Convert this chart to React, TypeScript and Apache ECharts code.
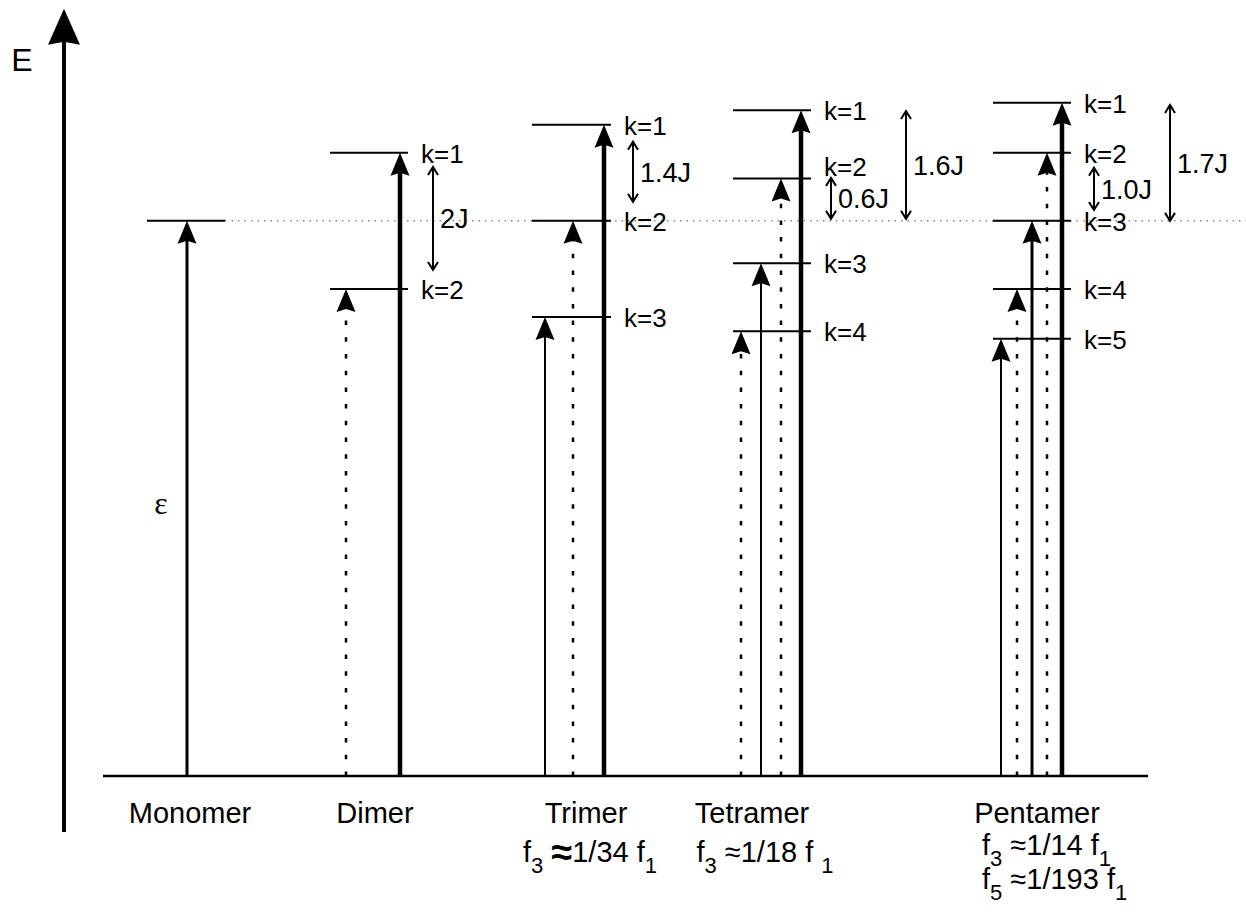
import React, { useEffect, useRef } from "react";
import * as echarts from "echarts";

// ---- canvas / scale ----
const W = 1246;
const H = 920;
const BASE_PX = 776; // pixel row of the ground state line
const PX_PER_J = 68.2; // vertical scale: pixels per unit J

// ---- energies (units of J) ----
const EPSILON = 8.14; // monomer excitation energy
// exciton levels relative to ε, ordered k = 1, 2, ...
const monomerLevels = [0];
const dimerLevels = [1, -1];
const trimerLevels = [1.41, 0, -1.41];
const tetramerLevels = [1.62, 0.62, -0.62, -1.62];
const pentamerLevels = [1.73, 1, 0, -1, -1.73];

const aggregateNames = ["Monomer", "Dimer", "Trimer", "Tetramer", "Pentamer"];
const levelSets = [monomerLevels, dimerLevels, trimerLevels, tetramerLevels, pentamerLevels];
const levelLeft = [147, 330, 532, 733, 993];
const levelRight = [225, 408, 611, 811, 1071];
const nameX = [190, 375, 586, 752, 1037];

// ---- transitions from the ground state ----
const arrowAggregate = [0, 1, 1, 2, 2, 2, 3, 3, 3, 3, 4, 4, 4, 4, 4];
const arrowLevel = [1, 2, 1, 3, 2, 1, 4, 3, 2, 1, 5, 4, 3, 2, 1];
const arrowX = [187, 346, 400, 545, 573, 604, 741, 761, 781, 801, 1001, 1017, 1032, 1047, 1062];
const arrowKind = [
  "medium", "dotted", "thick",
  "thin", "dotted", "thick",
  "dotted", "thin", "dotted", "thick",
  "thin", "dotted", "medium", "dotted", "thick",
];

// ---- splitting markers (relative to ε) ----
const splitX = [433, 633, 906, 831, 1094, 1170];
const splitFrom = [0.79, 1.16, 1.61, 0.63, 0.78, 1.7];
const splitTo = [-0.72, 0.28, 0.03, 0.03, 0.16, 0.0];
const splitLabels = ["2J", "1.4J", "1.6J", "0.6J", "1.0J", "1.7J"];

// ---- energy axis extent ----
const AXIS_X = 64;
const AXIS_BOTTOM = -0.82;
const AXIS_TOP = 11.25;
const BASELINE_LEFT = 103;
const BASELINE_RIGHT = 1148;

const SANS = '"Liberation Sans", Arial, Helvetica, sans-serif';
const SERIF = '"Liberation Serif", "Times New Roman", serif';

const levelRows = levelSets.flatMap((set, a) =>
  set.map((v, k) => ({ a, k: k + 1, e: EPSILON + v }))
);

// k-label lifted clear of the 0.6J marker
function labelNudge(a: number, k: number): number {
  return a === 3 && k === 2 ? -13 : 0;
}

const lineWidthOf: Record<string, number> = { thin: 2, medium: 3, thick: 4.5, dotted: 2.5 };

function head(x: number, y: number): any {
  const w = 19;
  const h = 23;
  return {
    type: "polygon",
    shape: { points: [[x, y], [x + w / 2, y + h], [x, y + h - 3], [x - w / 2, y + h]] },
    style: { fill: "#000" },
  };
}

function openHead(x: number, y: number, dir: number): any {
  return {
    type: "polyline",
    shape: { points: [[x - 5, y + dir * 8], [x, y], [x + 5, y + dir * 8]] },
    style: { stroke: "#000", lineWidth: 2, fill: null },
  };
}

const fRich = {
  b: { fontSize: 29, fontFamily: SANS, fill: "#000", verticalAlign: "middle" },
  s: { fontSize: 22, fontFamily: SANS, fill: "#000", padding: [26, 0, 0, 0], verticalAlign: "middle" },
  x: { fontSize: 38, fontFamily: SANS, fill: "#000", verticalAlign: "middle", fontWeight: "bold" },
};

export default function App() {
  const ref = useRef<HTMLDivElement>(null);

  useEffect(() => {
    if (!ref.current) return;
    const chart = echarts.init(ref.current, undefined, { renderer: "svg" });

    const option: any = {
      animation: false,
      backgroundColor: "#ffffff",
      grid: { left: 0, right: 0, top: 0, bottom: 0 },
      xAxis: { type: "value", min: 0, max: W, show: false },
      yAxis: {
        type: "value",
        min: -(H - BASE_PX) / PX_PER_J,
        max: BASE_PX / PX_PER_J,
        show: false,
      },
      series: [
        // frame: energy axis, ground line, monomer reference line, axis labels
        {
          type: "custom",
          coordinateSystem: "cartesian2d",
          clip: false,
          silent: true,
          data: [[0, 0]],
          renderItem: (_p: any, api: any) => {
            const bottom = api.coord([AXIS_X, AXIS_BOTTOM]);
            const top = api.coord([AXIS_X, AXIS_TOP]);
            const g0 = api.coord([BASELINE_LEFT, 0]);
            const g1 = api.coord([BASELINE_RIGHT, 0]);
            const r0 = api.coord([levelRight[0], EPSILON]);
            const r1 = api.coord([W, EPSILON]);
            const children: any[] = [
              {
                type: "line",
                shape: { x1: r0[0], y1: r0[1], x2: r1[0], y2: r1[1] },
                style: { stroke: "#8a8a8a", lineWidth: 1.5, lineDash: [1.5, 5] },
              },
              {
                type: "line",
                shape: { x1: bottom[0], y1: bottom[1], x2: top[0], y2: top[1] + 30 },
                style: { stroke: "#000", lineWidth: 4 },
              },
              {
                type: "polygon",
                shape: {
                  points: [
                    [top[0], top[1]],
                    [top[0] + 16, top[1] + 36],
                    [top[0], top[1] + 33],
                    [top[0] - 16, top[1] + 36],
                  ],
                },
                style: { fill: "#000" },
              },
              {
                type: "line",
                shape: { x1: g0[0], y1: g0[1], x2: g1[0], y2: g1[1] },
                style: { stroke: "#000", lineWidth: 2.5 },
              },
              {
                type: "text",
                x: top[0] - 42,
                y: top[1] + 51,
                style: { text: "E", font: `32px ${SANS}`, fill: "#000", align: "center", verticalAlign: "middle" },
              },
              {
                type: "text",
                x: api.coord([161, 0])[0],
                y: api.coord([0, EPSILON / 2])[1] + 5,
                style: { text: "ε", font: `32px ${SERIF}`, fill: "#000", align: "center", verticalAlign: "middle" },
              },
            ];
            // aggregate names under the ground line
            aggregateNames.forEach((n, i) => {
              children.push({
                type: "text",
                x: api.coord([nameX[i], 0])[0],
                y: g0[1] + 37,
                style: { text: n, font: `29px ${SANS}`, fill: "#000", align: "center", verticalAlign: "middle" },
              });
            });
            // oscillator-strength ratios
            const fRows = [
              { x: 590, dy: 76, align: "center", text: "{b|f}{s|3}{b| }{x|≈}{b|1/34 f}{s|1}" },
              { x: 765, dy: 76, align: "center", text: "{b|f}{s|3}{b| ≈1/18 f }{s|1}" },
              { x: 982, dy: 69, align: "left", text: "{b|f}{s|3}{b| ≈1/14 f}{s|1}" },
              { x: 982, dy: 103, align: "left", text: "{b|f}{s|5}{b| ≈1/193 f}{s|1}" },
            ];
            fRows.forEach((r) => {
              children.push({
                type: "text",
                x: api.coord([r.x, 0])[0],
                y: g0[1] + r.dy,
                style: { text: r.text, rich: fRich, align: r.align, verticalAlign: "middle" },
              });
            });
            return { type: "group", children };
          },
        },
        // exciton levels
        {
          type: "custom",
          coordinateSystem: "cartesian2d",
          clip: false,
          silent: true,
          data: levelRows.map((r) => [levelLeft[r.a], r.e]),
          renderItem: (p: any, api: any) => {
            const r = levelRows[p.dataIndex];
            const a = api.coord([levelLeft[r.a], r.e]);
            const b = api.coord([levelRight[r.a], r.e]);
            const children: any[] = [
              {
                type: "line",
                shape: { x1: a[0], y1: a[1], x2: b[0], y2: b[1] },
                style: { stroke: "#000", lineWidth: 2 },
              },
            ];
            if (r.a > 0) {
              children.push({
                type: "text",
                x: b[0] + 13,
                y: b[1] + 1 + labelNudge(r.a, r.k),
                style: { text: `k=${r.k}`, font: `26px ${SANS}`, fill: "#000", align: "left", verticalAlign: "middle" },
              });
            }
            return { type: "group", children };
          },
        },
        // transitions from the ground state
        {
          type: "custom",
          coordinateSystem: "cartesian2d",
          clip: false,
          silent: true,
          data: arrowX.map((x, i) => [x, EPSILON + levelSets[arrowAggregate[i]][arrowLevel[i] - 1]]),
          renderItem: (p: any, api: any) => {
            const i = p.dataIndex;
            const e = EPSILON + levelSets[arrowAggregate[i]][arrowLevel[i] - 1];
            const tip = api.coord([arrowX[i], e]);
            const foot = api.coord([arrowX[i], 0]);
            const kind = arrowKind[i];
            const style: any = { stroke: "#000", lineWidth: lineWidthOf[kind] };
            if (kind === "dotted") style.lineDash = [4.5, 12.2];
            return {
              type: "group",
              children: [
                {
                  type: "line",
                  shape: { x1: foot[0], y1: foot[1], x2: tip[0], y2: tip[1] + 19 },
                  style,
                },
                head(tip[0], tip[1]),
              ],
            };
          },
        },
        // splitting markers
        {
          type: "custom",
          coordinateSystem: "cartesian2d",
          clip: false,
          silent: true,
          data: splitX.map((x, i) => [x, EPSILON + splitFrom[i]]),
          renderItem: (p: any, api: any) => {
            const i = p.dataIndex;
            const a = api.coord([splitX[i], EPSILON + splitFrom[i]]);
            const b = api.coord([splitX[i], EPSILON + splitTo[i]]);
            return {
              type: "group",
              children: [
                {
                  type: "line",
                  shape: { x1: a[0], y1: a[1] + 1, x2: b[0], y2: b[1] - 1 },
                  style: { stroke: "#000", lineWidth: 2 },
                },
                openHead(a[0], a[1], 1),
                openHead(b[0], b[1], -1),
                {
                  type: "text",
                  x: a[0] + 7,
                  y: (a[1] + b[1]) / 2 + 1,
                  style: { text: splitLabels[i], font: `27px ${SANS}`, fill: "#000", align: "left", verticalAlign: "middle" },
                },
              ],
            };
          },
        },
      ],
    };

    chart.setOption(option);
    return () => chart.dispose();
  }, []);

  return (
    <div
      ref={ref}
      style={{ position: "fixed", left: 0, top: 0, width: W, height: H, background: "#fff" }}
    />
  );
}
